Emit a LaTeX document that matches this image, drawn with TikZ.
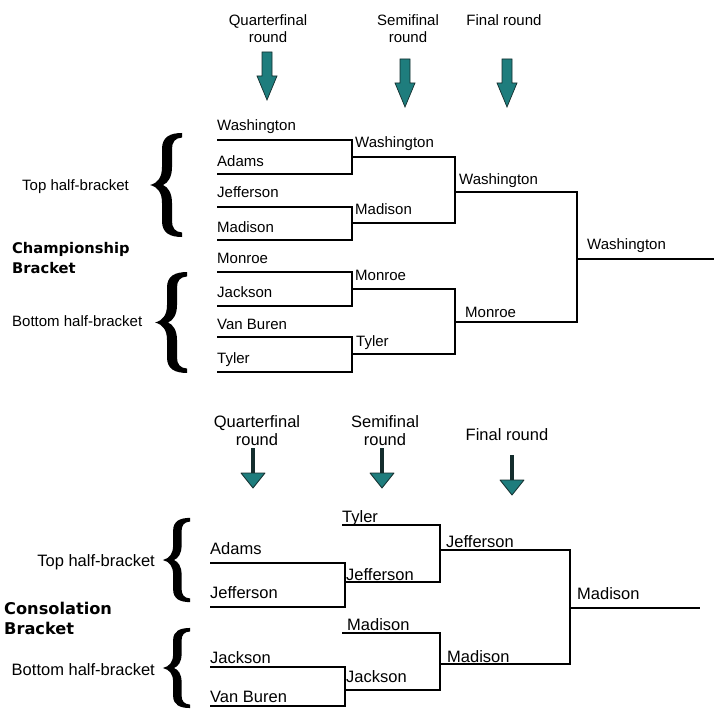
\documentclass[tikz,border=0pt]{standalone}
\usepackage{fontspec}
\setmainfont{Liberation Sans}
\newfontfamily\headfam{DejaVu Sans}
\definecolor{arrowteal}{RGB}{30,125,125}
\definecolor{arrowdark}{RGB}{20,45,45}
\begin{document}
\begin{tikzpicture}[x=1pt,y=-1pt,
  lblt/.style={font=\fontsize{15}{17}\selectfont, inner sep=0, anchor=base west},
  lblb/.style={font=\fontsize{16.5}{19}\selectfont, inner sep=0, anchor=base west},
  hdrt/.style={font=\fontsize{15}{17}\selectfont, align=center, inner sep=0},
  hdrb/.style={font=\fontsize{16.5}{18}\selectfont, align=center, inner sep=0},
  sidet/.style={font=\fontsize{15}{17}\selectfont, inner sep=0},
  sideb/.style={font=\fontsize{16.5}{18}\selectfont, inner sep=0},
  titlet/.style={font=\headfam\bfseries\fontsize{14.7}{20}\selectfont, align=left, inner sep=0, anchor=west},
  titleb/.style={font=\headfam\bfseries\fontsize{16.2}{20}\selectfont, align=left, inner sep=0, anchor=west},
  wiret/.style={line width=1.2pt, black},
  wireb/.style={line width=2pt, black},
  blockarr/.pic={\draw[fill=arrowteal, draw=arrowdark, line width=0.7pt, line join=miter]
      (-5,0) -- (5,0) -- (5,24) -- (10,24) -- (0,48) -- (-10,24) -- (-5,24) -- cycle;},
  stemarr/.pic={\draw[line width=3.5pt, arrowdark] (0,0) -- (0,26);
      \draw[fill=arrowteal, draw=arrowdark, line width=0.8pt, line join=round]
      (-12,25) -- (12,25) -- (0,40) -- cycle;},
  curlybrace/.pic={\fill[black]
      (-16,0) .. controls (-8,-2) and (-4,-8) .. (-4,-18)
      -- (-4,-36) .. controls (-4,-48) and (4,-52) .. (16,-52)
      -- (16,-47.5) .. controls (9,-47) and (6,-43) .. (6,-36)
      -- (6,-18) .. controls (6,-8) and (2,-2) .. (-3,0)
      .. controls (2,2) and (6,8) .. (6,18)
      -- (6,36) .. controls (6,43) and (9,47) .. (16,47.5)
      -- (16,52) .. controls (4,52) and (-4,48) .. (-4,36)
      -- (-4,18) .. controls (-4,8) and (-8,2) .. (-16,0) -- cycle;}
]
\useasboundingbox (0,0) rectangle (714,714);

% ================= TOP: CHAMPIONSHIP =================
\node[hdrt] (hqt) at (268,28.5) {Quarterfinal\\round};
\node[hdrt] (hst) at (408,28.5) {Semifinal\\round};
\node[hdrt] (hft) at (504,20) {Final round};
\pic at (267,52) {blockarr};
\pic at (405,59) {blockarr};
\pic at (507,59) {blockarr};

\node[sidet, anchor=west] (tht) at (22,187) {Top half-bracket};
\node[titlet] (champ) at (12,258) {Championship\\Bracket};
\node[sidet, anchor=west] (bht) at (12,321) {Bottom half-bracket};
\pic at (166,185) {curlybrace};
\pic[yscale=0.97] at (171,322.5) {curlybrace};

% quarterfinal lines
\foreach \y [count=\i] in {140,174,207,240,272,306,337,372}
  \coordinate (q\i) at (217,\y);
\draw[wiret] (q1) -| (352,174) -- (q2);
\draw[wiret] (q3) -| (352,240) -- (q4);
\draw[wiret] (q5) -| (352,306) -- (q6);
\draw[wiret] (q7) -| (352,372) -- (q8);
% semifinal lines
\coordinate (s1) at (352,157); \coordinate (s2) at (352,223);
\coordinate (s3) at (352,289); \coordinate (s4) at (352,354);
\draw[wiret] (s1) -| (455,223) -- (s2);
\draw[wiret] (s3) -| (455,354) -- (s4);
% final lines
\coordinate (f1) at (455,192); \coordinate (f2) at (455,322);
\draw[wiret] (f1) -| (577,322) -- (f2);
\coordinate (c1) at (577,259); \coordinate (c2) at (714,259);
\draw[wiret] (c1) -- (c2);

\node[lblt] (tq1) at (217,131) {Washington};
\node[lblt] (tq2) at (217,167) {Adams};
\node[lblt] (tq3) at (217,197) {Jefferson};
\node[lblt] (tq4) at (217,232) {Madison};
\node[lblt] (tq5) at (217,263) {Monroe};
\node[lblt] (tq6) at (217,297) {Jackson};
\node[lblt] (tq7) at (217,329) {Van Buren};
\node[lblt] (tq8) at (217,363) {Tyler};
\node[lblt] (ts1) at (355,148) {Washington};
\node[lblt] (ts2) at (355,214) {Madison};
\node[lblt] (ts3) at (355,280) {Monroe};
\node[lblt] (ts4) at (356,346) {Tyler};
\node[lblt] (tf1) at (459,185) {Washington};
\node[lblt] (tf2) at (465,317) {Monroe};
\node[lblt] (tc) at (587,249) {Washington};

% ================= BOTTOM: CONSOLATION =================
\node[hdrb] (hqb) at (257,431) {Quarterfinal\\round};
\node[hdrb] (hsb) at (385,431) {Semifinal\\round};
\node[hdrb] (hfb) at (507,435) {Final round};
\pic at (253,448) {stemarr};
\pic at (382,448) {stemarr};
\pic at (512,455) {stemarr};

\node[sideb, anchor=east] (thb) at (155,562) {Top half-bracket};
\node[titleb] (cons) at (4,618) {Consolation\\Bracket};
\node[sideb, anchor=east] (bhb) at (155,670) {Bottom half-bracket};
\pic[xscale=0.85, yscale=0.81] at (176.5,560) {curlybrace};
\pic[xscale=0.85, yscale=0.77] at (176.5,668) {curlybrace};

\coordinate (bq1) at (210,563); \coordinate (bq2) at (210,607);
\coordinate (bq3) at (210,667); \coordinate (bq4) at (210,706);
\draw[wireb] (bq1) -| (345,607) -- (bq2);
\draw[wireb] (bq3) -| (345,706) -- (bq4);
\coordinate (bs1) at (342,525); \coordinate (bs2) at (345,582);
\coordinate (bs3) at (342,633); \coordinate (bs4) at (345,690);
\draw[wireb] (bs1) -| (440,582) -- (bs2);
\draw[wireb] (bs3) -| (440,690) -- (bs4);
\coordinate (bf1) at (440,550); \coordinate (bf2) at (440,664);
\draw[wireb] (bf1) -| (570,664) -- (bf2);
\coordinate (bc1) at (570,608); \coordinate (bc2) at (700,608);
\draw[wireb] (bc1) -- (bc2);

\node[lblb] (bl1) at (210,554) {Adams};
\node[lblb] (bl2) at (210,598) {Jefferson};
\node[lblb] (bl3) at (210,663) {Jackson};
\node[lblb] (bl4) at (210,702) {Van Buren};
\node[lblb] (bl5) at (342,522) {Tyler};
\node[lblb] (bl6) at (346,580) {Jefferson};
\node[lblb] (bl7) at (347,630) {Madison};
\node[lblb] (bl8) at (346,682) {Jackson};
\node[lblb] (bl9) at (446,547) {Jefferson};
\node[lblb] (bl10) at (447,662) {Madison};
\node[lblb] (bl11) at (577,599) {Madison};
\end{tikzpicture}
\end{document}
